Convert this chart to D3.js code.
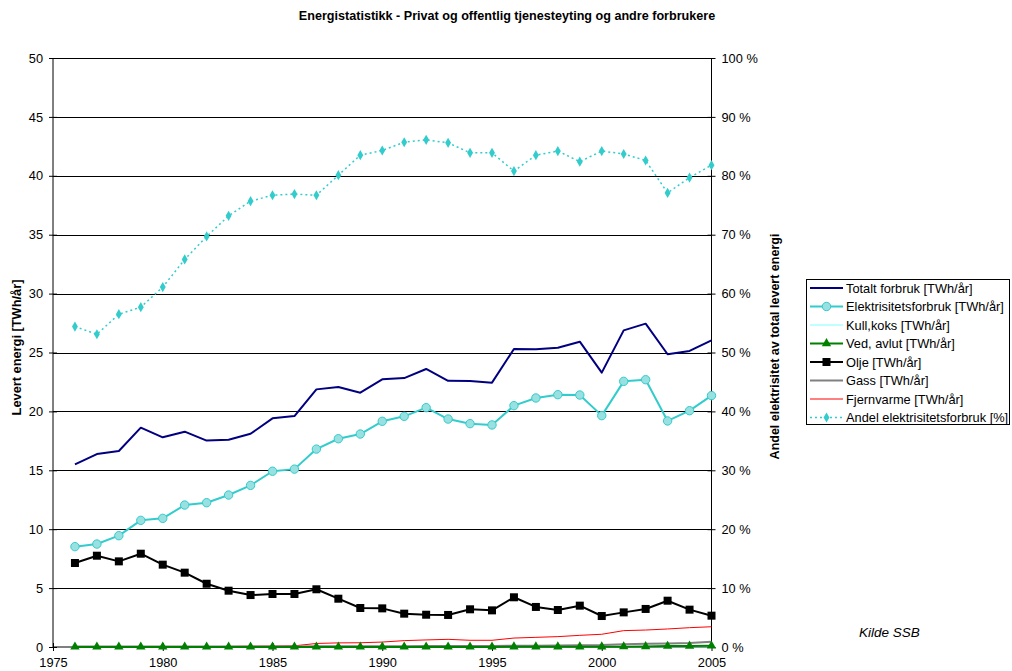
<!DOCTYPE html>
<html>
<head>
<meta charset="utf-8">
<script src="https://cdn.jsdelivr.net/npm/d3@7"></script>
<style>
  html, body { margin: 0; padding: 0; background: #fff; }
  svg { display: block; font-family: "Liberation Sans", Arial, sans-serif; }
</style>
</head>
<body>
<svg id="chart" width="1012" height="671"></svg>
<script>
// Years 1976–2005
const years = d3.range(1976, 2006);

// Energy use, TWh per year
const totalt = [15.5, 16.38, 16.64, 18.62, 17.8, 18.28, 17.52, 17.6, 18.1, 19.41,
  19.6, 21.87, 22.07, 21.59, 22.72, 22.83, 23.6, 22.6, 22.58, 22.44,
  25.3, 25.27, 25.41, 25.92, 23.29, 26.88, 27.45, 24.85, 25.13, 26.03];
const elektrisitet = [8.52, 8.74, 9.45, 10.75, 10.92, 12.05, 12.25, 12.9, 13.72, 14.92,
  15.1, 16.8, 17.68, 18.08, 19.16, 19.58, 20.32, 19.35, 18.96, 18.85,
  20.49, 21.14, 21.42, 21.39, 19.64, 22.55, 22.69, 19.19, 20.06, 21.34];
const kullKoks = [0.02, 0.02, 0.02, 0.02, 0.02, 0.02, 0.02, 0.02, 0.02, 0.02,
  0.02, 0.02, 0.02, 0.02, 0.02, 0.02, 0.02, 0.02, 0.02, 0.02,
  0.02, 0.02, 0.02, 0.02, 0.02, 0.02, 0.02, 0.02, 0.02, 0.02];
const vedAvlut = [0.01, 0.01, 0.01, 0.01, 0.01, 0.01, 0.01, 0.01, 0.01, 0.01,
  0.01, 0.01, 0.01, 0.01, 0.01, 0.01, 0.01, 0.01, 0.01, 0.01,
  0.02, 0.02, 0.02, 0.02, 0.02, 0.03, 0.04, 0.08, 0.09, 0.1];
const olje = [7.13, 7.75, 7.27, 7.92, 6.99, 6.31, 5.37, 4.78, 4.41, 4.5,
  4.5, 4.9, 4.1, 3.31, 3.28, 2.83, 2.74, 2.72, 3.2, 3.11,
  4.22, 3.4, 3.14, 3.51, 2.63, 2.94, 3.23, 3.93, 3.17, 2.66];
const gass = [0.05, 0.05, 0.05, 0.05, 0.05, 0.05, 0.05, 0.05, 0.05, 0.05,
  0.05, 0.06, 0.06, 0.07, 0.07, 0.07, 0.08, 0.08, 0.08, 0.09,
  0.1, 0.11, 0.12, 0.14, 0.16, 0.23, 0.28, 0.3, 0.33, 0.45];
const fjernvarme = [0.03, 0.03, 0.03, 0.03, 0.03, 0.03, 0.03, 0.05, 0.07, 0.08,
  0.1, 0.3, 0.35, 0.36, 0.42, 0.54, 0.6, 0.65, 0.57, 0.57,
  0.76, 0.82, 0.88, 0.99, 1.08, 1.39, 1.44, 1.53, 1.64, 1.72];

// Electricity share of total delivered energy, percent
const andel = [54.4, 53.1, 56.5, 57.7, 61.1, 65.8, 69.7, 73.2, 75.7, 76.7,
  76.9, 76.7, 80.1, 83.5, 84.3, 85.7, 86.1, 85.6, 83.9, 83.9,
  80.8, 83.5, 84.2, 82.4, 84.2, 83.7, 82.6, 77.1, 79.7, 81.8];

// Axis ticks
const xTicks = [1975, 1980, 1985, 1990, 1995, 2000, 2005];
const yTicks = [0, 5, 10, 15, 20, 25, 30, 35, 40, 45, 50];
const y2Ticks = [0, 10, 20, 30, 40, 50, 60, 70, 80, 90, 100];

const titleText = "Energistatistikk - Privat og offentlig tjenesteyting og andre forbrukere";
const yLabel = "Levert energi [TWh/år]";
const y2Label = "Andel elektrisitet av total levert energi";
const sourceText = "Kilde SSB";

const svg = d3.select("#chart");
const plotLeft = 53, plotRight = 711.5, plotTop = 58, plotBottom = 647;
const fs = 12.8;

const x = d3.scaleLinear().domain([1975, 2005]).range([plotLeft, plotRight]);
const y = d3.scaleLinear().domain([0, 50]).range([plotBottom, plotTop]);
const y2 = d3.scaleLinear().domain([0, 100]).range([plotBottom, plotTop]);

// Title
svg.append("text")
  .attr("x", 507).attr("y", 20)
  .attr("text-anchor", "middle")
  .attr("font-size", 12.6).attr("font-weight", "bold")
  .text(titleText);

// Gridlines
svg.append("g").selectAll("line")
  .data(yTicks.filter(d => d > 0))
  .join("line")
  .attr("x1", plotLeft).attr("x2", plotRight)
  .attr("y1", d => Math.round(y(d)) + 0.5).attr("y2", d => Math.round(y(d)) + 0.5)
  .attr("stroke", "#000").attr("stroke-width", 1);

const axisFont = "Liberation Sans, Arial, sans-serif";

// Left axis
const gy = svg.append("g").attr("transform", `translate(${plotLeft},0)`)
  .call(d3.axisLeft(y).tickValues(yTicks).tickSize(4).tickPadding(6));
gy.selectAll(".tick line").attr("x2", 4).attr("x1", -4);
gy.selectAll(".tick text").attr("font-size", fs).attr("font-family", axisFont).attr("fill", "#000");
gy.select(".domain").attr("d", `M0,${plotTop}V${plotBottom}`);

// Right axis
const gy2 = svg.append("g").attr("transform", `translate(${plotRight},0)`)
  .call(d3.axisRight(y2).tickValues(y2Ticks).tickSize(4).tickPadding(6).tickFormat(d => d + " %"));
gy2.selectAll(".tick line").attr("x1", -4).attr("x2", 4);
gy2.selectAll(".tick text").attr("font-size", fs).attr("font-family", axisFont).attr("fill", "#000");
gy2.select(".domain").attr("d", `M0,${plotTop}V${plotBottom}`);

// Bottom axis
const gx = svg.append("g").attr("transform", `translate(0,${plotBottom})`)
  .call(d3.axisBottom(x).tickValues(xTicks).tickSize(4).tickPadding(7).tickFormat(d3.format("d")));
gx.selectAll(".tick line").attr("y1", -4).attr("y2", 4);
gx.selectAll(".tick text").attr("font-size", fs).attr("font-family", axisFont).attr("fill", "#000");
gx.select(".domain").attr("d", `M${plotLeft},0H${plotRight}`);
svg.selectAll(".domain, .tick line").attr("stroke", "#000");

// Axis titles
svg.append("text")
  .attr("transform", `translate(21,${(plotTop + plotBottom) / 2 - 5}) rotate(-90)`)
  .attr("text-anchor", "middle")
  .attr("font-size", fs).attr("font-weight", "bold")
  .text(yLabel);
svg.append("text")
  .attr("transform", `translate(779,${(plotTop + plotBottom) / 2 - 6}) rotate(-90)`)
  .attr("text-anchor", "middle")
  .attr("font-size", 12.5).attr("font-weight", "bold")
  .text(y2Label);

// Series definitions (drawn from arrays above)
const series = [
  { name: "Totalt forbruk [TWh/år]", values: totalt, scale: y, color: "#000080", width: 2, marker: null },
  { name: "Elektrisitetsforbruk [TWh/år]", values: elektrisitet, scale: y, color: "#33CCCC", width: 2, marker: "circle" },
  { name: "Kull,koks [TWh/år]", values: kullKoks, scale: y, color: "#7FFFFF", width: 1, marker: null },
  { name: "Ved, avlut [TWh/år]", values: vedAvlut, scale: y, color: "#008000", width: 2, marker: "triangle" },
  { name: "Olje [TWh/år]", values: olje, scale: y, color: "#000000", width: 2, marker: "square" },
  { name: "Gass [TWh/år]", values: gass, scale: y, color: "#808080", width: 2, marker: null },
  { name: "Fjernvarme [TWh/år]", values: fjernvarme, scale: y, color: "#FF0000", width: 1, marker: null },
  { name: "Andel elektrisitetsforbruk [%]", values: andel, scale: y2, color: "#33CCCC", width: 1.5, marker: "diamond", dash: "2,3" }
];

function drawMarker(g, type, cx, cy) {
  if (type === "circle") {
    g.append("circle").attr("cx", cx).attr("cy", cy).attr("r", 4.2)
      .attr("fill", "#99E0E0").attr("stroke", "#33CCCC").attr("stroke-width", 1);
  } else if (type === "square") {
    g.append("rect").attr("x", cx - 4).attr("y", cy - 4).attr("width", 8).attr("height", 8)
      .attr("fill", "#000");
  } else if (type === "triangle") {
    g.append("path").attr("d", d3.symbol(d3.symbolTriangle, 38)()).attr("transform", `translate(${cx},${cy})`)
      .attr("fill", "#008000");
  } else if (type === "diamond") {
    g.append("path").attr("d", d3.symbol(d3.symbolDiamond, 30)()).attr("transform", `translate(${cx},${cy})`)
      .attr("fill", "#33CCCC");
  }
}

// Draw order: small series first, then Olje, Elektrisitet, Totalt, Andel
const drawOrder = [6, 5, 2, 3, 4, 1, 0, 7];
const plot = svg.append("g");
drawOrder.forEach(i => {
  const s = series[i];
  const line = d3.line().x((d, j) => x(years[j])).y(d => s.scale(d));
  plot.append("path").datum(s.values)
    .attr("d", line).attr("fill", "none")
    .attr("stroke", s.color).attr("stroke-width", s.width)
    .attr("stroke-dasharray", s.dash || null)
    .attr("stroke-linejoin", "round");
  if (s.marker) {
    const mg = plot.append("g");
    s.values.forEach((v, j) => drawMarker(mg, s.marker, x(years[j]), s.scale(v)));
  }
});

// Legend
const lg = svg.append("g");
lg.append("rect").attr("x", 806.5).attr("y", 279.5).attr("width", 203).attr("height", 145)
  .attr("fill", "#fff").attr("stroke", "#000").attr("stroke-width", 1);
series.forEach((s, i) => {
  const ly = 288 + i * 18.5;
  lg.append("line").attr("x1", 810).attr("x2", 843).attr("y1", ly).attr("y2", ly)
    .attr("stroke", s.color).attr("stroke-width", s.width)
    .attr("stroke-dasharray", s.dash || null);
  if (s.marker) drawMarker(lg, s.marker, 826.5, ly);
  lg.append("text").attr("x", 846).attr("y", ly + 4.5)
    .attr("font-size", fs).text(s.name);
});

// Source note
svg.append("text")
  .attr("x", 859).attr("y", 637)
  .attr("font-size", 13.5).attr("font-style", "italic")
  .text(sourceText);
</script>
</body>
</html>
